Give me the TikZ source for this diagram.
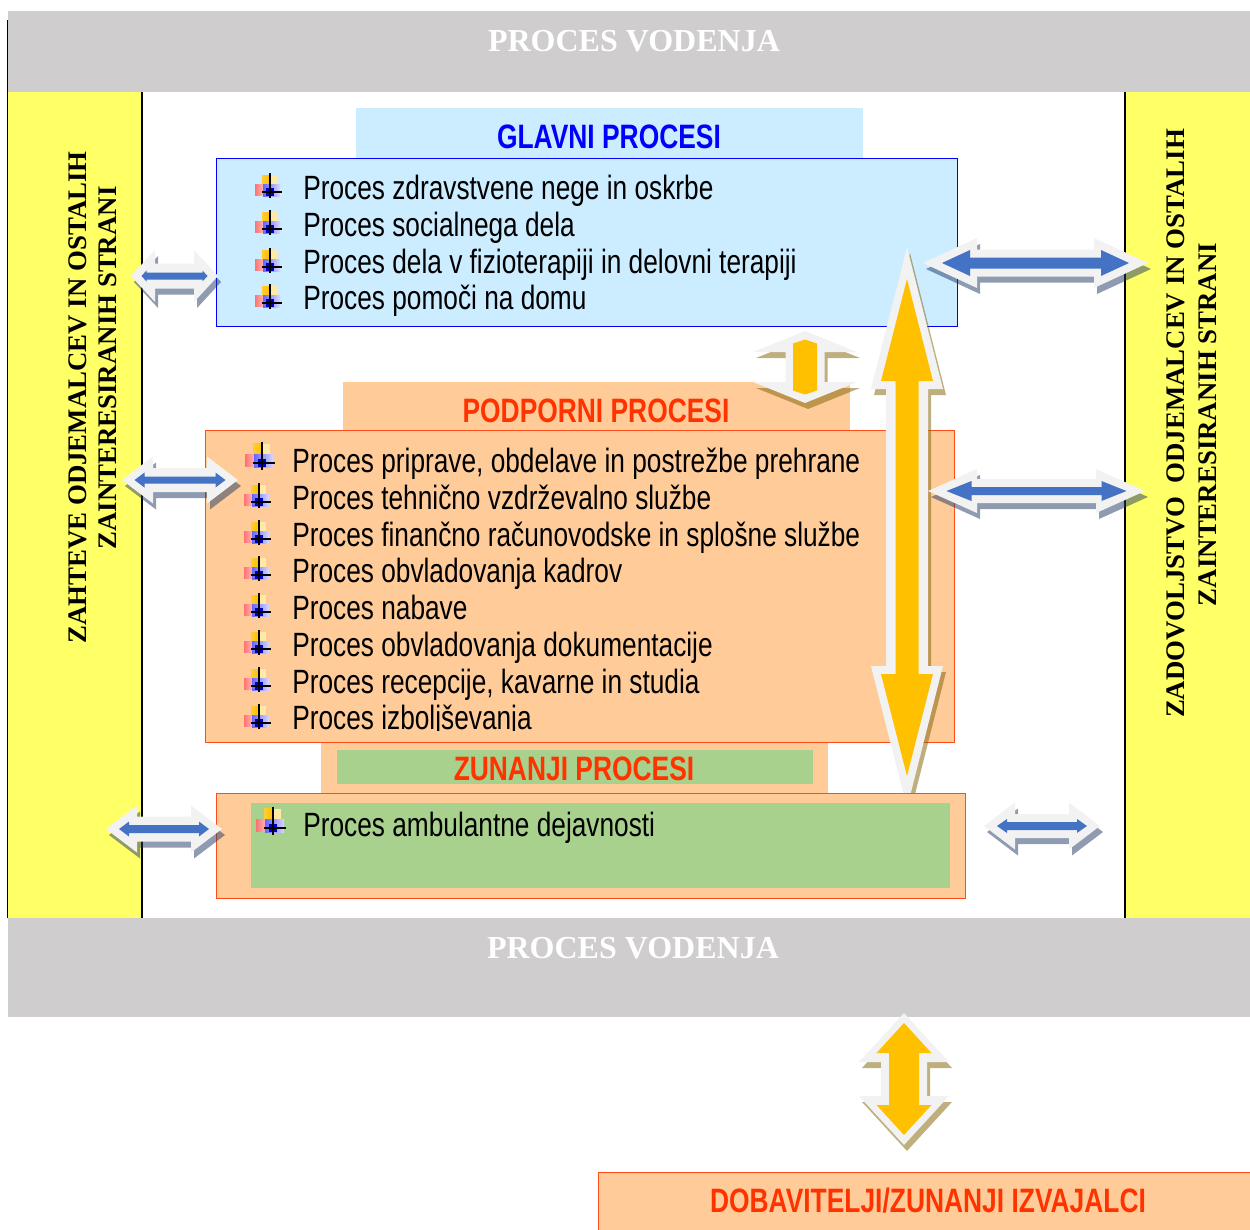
\documentclass[tikz,border=0pt]{standalone}
\usepackage{fontspec}
\setmainfont{Liberation Serif}
\newfontfamily\narrowsans[FakeStretch=0.78]{Liberation Sans}
\usetikzlibrary{positioning}
\definecolor{bandgray}{HTML}{CFCDCE}
\definecolor{sideyellow}{HTML}{FFFF66}
\definecolor{glavniblue}{HTML}{CCECFF}
\definecolor{peach}{HTML}{FFCC99}
\definecolor{zunanjigreen}{HTML}{A9D18E}
\definecolor{headred}{HTML}{FF3300}
\definecolor{edgered}{HTML}{FF4D1A}
\definecolor{arrowgold}{HTML}{FFC000}
\definecolor{arrowblue}{HTML}{4472C4}
\definecolor{arrowrim}{HTML}{F2F2F2}
\definecolor{shadeblue}{HTML}{203864}
\definecolor{shadegold}{HTML}{7F6000}
\tikzset{
	x=0.6pt,
	y=-0.6pt,
	panel/.style={
		rectangle,
		inner sep=0pt,
		outer sep=0pt,
		anchor=north west},
	band/.style={panel, fill=bandgray},
	sidebar/.style={panel, fill=sideyellow},
	bandtext/.style={
		text=white,
		font=\fontsize{19.2}{21}\selectfont\bfseries},
	sidetext/.style={
		rotate=90,
		text=black,
		font=\fontsize{16.1}{18}\selectfont\bfseries},
	headtext/.style={
		font=\narrowsans\fontsize{20.3}{22}\selectfont\bfseries},
	procline/.style={
		anchor=west,
		inner sep=0pt,
		text height=15.5pt,
		text depth=3pt,
		font=\narrowsans\fontsize{20.2}{22}\selectfont},
	bullet/.pic={
		\shade[left color=arrowgold!80, right color=arrowgold] (-8,-17) rectangle (0,-8);
		\fill[arrowgold!35!white] (0,-17) rectangle (7,-8);
		\shade[left color=red!55, right color=red!30] (-15,-8) rectangle (-7,3);
		\shade[left color=blue!60, right color=blue!15] (-7,-8) rectangle (10,4);
		\fill[blue!75!black] (-4,-4) rectangle (4,4);
		\draw[black, line width=0.9pt] (0,-19) -- (0,6);
		\draw[black, line width=0.9pt] (-8,0) -- (12,0);
	},
}
% half length, head length, head half width, body half width
\newcommand\dblarrowfill[5]{
	\fill[#1] (-#2,0) -- ({-#2+#3},-#4) -- ({-#2+#3},-#5) -- ({#2-#3},-#5)
		-- ({#2-#3},-#4) -- (#2,0) -- ({#2-#3},#4) -- ({#2-#3},#5)
		-- ({-#2+#3},#5) -- ({-#2+#3},#4) -- cycle;
}
\newcommand\blockarrow[6]{
	\begin{scope}[shift={(#1)}, shift={(3,6)}, rotate=#2]
		\dblarrowfill{#6, opacity=.5}#3
	\end{scope}
	\begin{scope}[shift={(#1)}, rotate=#2]
		\dblarrowfill{arrowrim}#3
		\dblarrowfill{#5}#4
	\end{scope}
}

\begin{document}
\begin{tikzpicture}
\useasboundingbox (0,0) rectangle (1250,1230);

\node[sidebar, minimum width=80.4pt, minimum height=495.6pt] (leftbar) at (8,92) {};
\node[sidebar, minimum width=75pt, minimum height=495.6pt] (rightbar) at (1125,92) {};
\draw[black, line width=0.9pt] (7.5,20) -- (7.5,918);
\draw[black, line width=0.9pt] (leftbar.north east) -- (leftbar.south east);
\draw[black, line width=0.9pt] (rightbar.north west) -- (rightbar.south west);

\node[band, minimum width=745.2pt, minimum height=48.6pt] (topband) at (8,11) {};
\node[band, minimum width=745.2pt, minimum height=59.4pt] (bottomband) at (8,918) {};
\node[bandtext] (toptext) at (634,41) {PROCES VODENJA};
\node[bandtext] (bottomtext) at (633,948) {PROCES VODENJA};

\node[sidetext] (lefttext1) at (78,397.5) {ZAHTEVE ODJEMALCEV IN OSTALIH};
\node[sidetext] (lefttext2) at (108,368) {ZAINTERESIRANIH STRANI};
\node[sidetext] (righttext1) at (1176,423.5) {ZADOVOLJSTVO\ \ ODJEMALCEV IN OSTALIH};
\node[sidetext] (righttext2) at (1208,424.5) {ZAINTERESIRANIH STRANI};

% glavni procesi
\node[panel, fill=glavniblue, minimum width=304.2pt, minimum height=30pt] (glavnitab) at (356,108) {};
\node[panel, fill=glavniblue, draw=blue, line width=0.6pt, minimum width=445.2pt, minimum height=100.8pt] (glavnibox) at (216,158) {};
\node[headtext, text=blue] (glavnihead) at (609,137) {GLAVNI PROCESI};
\node[procline] (glavni1) at (303,189) {Proces zdravstvene nege in oskrbe};
\node[procline] (glavni2) at (303,226) {Proces socialnega dela};
\node[procline] (glavni3) at (303,263) {Proces dela v fizioterapiji in delovni terapiji};
\node[procline] (glavni4) at (303,299) {Proces pomoči na domu};
\pic at (270,192) {bullet};
\pic at (270,229) {bullet};
\pic at (270,267) {bullet};
\pic at (270,303) {bullet};

% podporni procesi
\node[panel, fill=peach, minimum width=304.2pt, minimum height=28.8pt] (podpornitab) at (343,382) {};
\node[panel, fill=peach, draw=edgered, line width=0.6pt, minimum width=450pt, minimum height=187.2pt] (podpornibox) at (205,430) {};
\node[headtext, text=headred] (podpornihead) at (596,411) {PODPORNI PROCESI};
\node[procline] (podporni1) at (292,462) {Proces priprave, obdelave in postrežbe prehrane};
\node[procline] (podporni2) at (292,499) {Proces tehnično vzdrževalno službe};
\node[procline] (podporni3) at (292,536) {Proces finančno računovodske in splošne službe};
\node[procline] (podporni4) at (292,572) {Proces obvladovanja kadrov};
\node[procline] (podporni5) at (292,609) {Proces nabave};
\node[procline] (podporni6) at (292,646) {Proces obvladovanja dokumentacije};
\node[procline] (podporni7) at (292,683) {Proces recepcije, kavarne in studia};
\node[procline] (podporni8) at (292,719) {Proces izboljševanja};
\fill[peach] (285,730.5) rectangle (560,741);
\pic[scale=1.12] at (262,463) {bullet};
\pic at (259,502) {bullet};
\pic at (259,539) {bullet};
\pic at (259,575) {bullet};
\pic at (259,612) {bullet};
\pic at (259,649) {bullet};
\pic at (259,686) {bullet};
\pic at (259,723) {bullet};

% zunanji procesi
\node[panel, fill=peach, minimum width=304.2pt, minimum height=30.6pt] (zunanjitab) at (321,742.6) {};
\node[panel, fill=zunanjigreen, minimum width=285.6pt, minimum height=20.4pt] (zunanjihead) at (337,750) {};
\node[headtext, text=headred] (zunanjitext) at (574,769) {ZUNANJI PROCESI};

\blockarrow{907,527.5}{90}{{280.5}{142}{36}{21}}{{248.5}{102}{26}{11.5}}{arrowgold}{shadegold}

\node[panel, fill=peach, draw=edgered, line width=0.6pt, minimum width=450pt, minimum height=63pt] (zunanjibox) at (216,793) {};
\node[panel, fill=zunanjigreen, minimum width=419.4pt, minimum height=51pt] (zunanjiinner) at (251,803) {};
\node[procline] (zunanji1) at (303,826) {Proces ambulantne dejavnosti};
\pic[scale=1.12] at (273,828) {bullet};

% dobavitelji
\node[panel, fill=peach, draw=edgered, line width=0.6pt, minimum width=391.2pt, minimum height=35pt] (dobavitelji) at (598,1172) {};
\node[headtext, text=headred] (dobaviteljitext) at (928,1201) {DOBAVITELJI/ZUNANJI IZVAJALCI};

\blockarrow{174.5,276}{0}{{43.5}{24}{26}{12.5}}{{33}{5}{5.5}{3.5}}{arrowblue}{shadeblue}
\blockarrow{180,480}{0}{{58}{31}{23.5}{12}}{{45.5}{10}{7.5}{3.5}}{arrowblue}{shadeblue}
\blockarrow{164,829}{0}{{58}{31}{23.5}{12.5}}{{45}{10}{7.5}{4}}{arrowblue}{shadeblue}
\blockarrow{1035.5,263}{0}{{112.5}{54}{25}{13.5}}{{93.5}{28}{13}{5.5}}{arrowblue}{shadeblue}
\blockarrow{1036.5,491}{0}{{108.5}{49}{22}{12}}{{90}{25}{10}{4}}{arrowblue}{shadeblue}
\blockarrow{1042,826}{0}{{58}{31}{23.5}{12}}{{45}{10}{7}{4}}{arrowblue}{shadeblue}
\blockarrow{805,367}{90}{{36}{21}{52}{19.5}}{{27.5}{4}{12}{12}}{arrowgold}{shadegold}
\blockarrow{904,1079}{90}{{66}{49}{45}{23}}{{56}{30}{27.5}{15}}{arrowgold}{shadegold}
\end{tikzpicture}
\end{document}
